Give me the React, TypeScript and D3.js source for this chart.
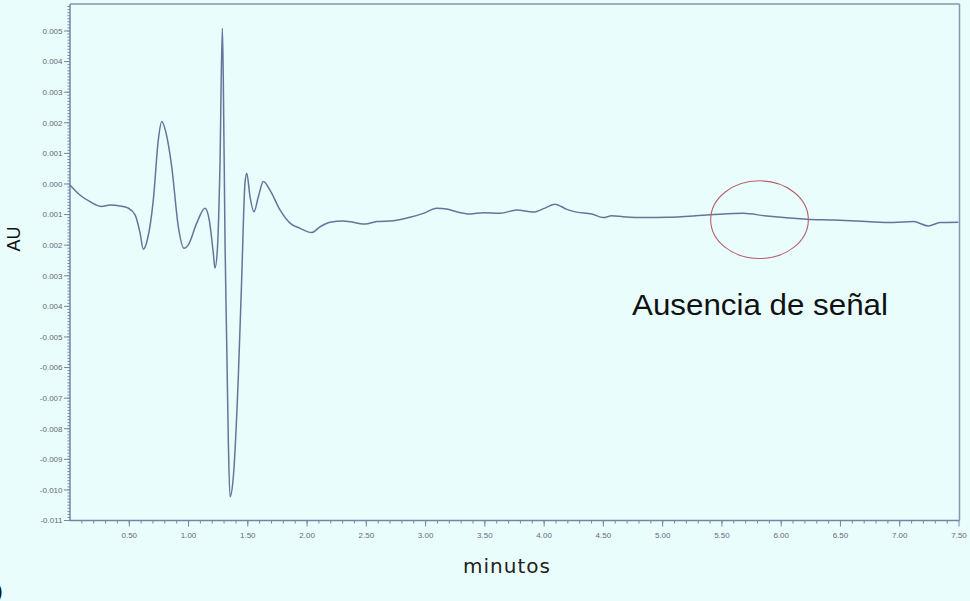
import React from "react";
import * as d3 from "d3";

// Chromatogram trace: retention time (min) and absorbance (AU)
const times = [
  0, 0.084, 0.169, 0.267, 0.337, 0.422, 0.492, 0.549, 0.591, 0.618, 0.652, 0.703,
  0.745, 0.774, 0.81, 0.858, 0.914, 0.962, 0.998, 1.069, 1.139, 1.175, 1.209, 1.223,
  1.243, 1.265, 1.285, 1.293, 1.308, 1.322, 1.336, 1.35, 1.378, 1.42, 1.449, 1.476,
  1.491, 1.519, 1.552, 1.589, 1.631, 1.687, 1.772, 1.856, 1.94, 2.039, 2.109, 2.194,
  2.306, 2.489, 2.588, 2.728, 2.868, 2.981, 3.094, 3.178, 3.263, 3.375, 3.487, 3.628,
  3.769, 3.909, 4.007, 4.092, 4.191, 4.275, 4.401, 4.499, 4.57, 4.668, 4.866, 5.034,
  5.4, 5.68, 5.878, 6.215, 6.44, 6.721, 6.946, 7.115, 7.241, 7.34, 7.494,
];

const absorbance = [
  -0.00003, -0.00036, -0.00058, -0.00074, -0.00069, -0.00072, -0.00079, -0.00101,
  -0.0016, -0.00213, -0.00183, -0.00052, 0.00144, 0.00204, 0.00167, 0.00057,
  -0.0014, -0.0021, -0.00199, -0.00128, -0.00079, -0.00118, -0.00226, -0.00275,
  -0.00216, 0.00057, 0.00509, 0.00351, -0.00193, -0.0052, -0.00846, -0.01023,
  -0.00957, -0.0063, -0.00303, 0.00002, 0.00035, -0.00042, -0.00091, -0.00042,
  0.00008, -0.0002, -0.00085, -0.00128, -0.00145, -0.00159, -0.0014, -0.00125,
  -0.00121, -0.00131, -0.00123, -0.0012, -0.00109, -0.00096, -0.00079, -0.00082,
  -0.00091, -0.00098, -0.00094, -0.00096, -0.00085, -0.00092, -0.00079, -0.00066,
  -0.00083, -0.00092, -0.00098, -0.0011, -0.00104, -0.00107, -0.0011, -0.00109,
  -0.00101, -0.00096, -0.00105, -0.00115, -0.00118, -0.00123, -0.00126, -0.00123,
  -0.00137, -0.00126, -0.00125,
];

const yTickValues = [
  0.005, 0.004, 0.003, 0.002, 0.001, 0, -0.001, -0.002, -0.003, -0.004, -0.005,
  -0.006, -0.007, -0.008, -0.009, -0.01, -0.011,
];
const yTickLabels = [
  "0.005", "0.004", "0.003", "0.002", "0.001", "0.000", "0.001", "0.002", "0.003",
  "0.004", "-0.005", "-0.006", "-0.007", "-0.008", "-0.009", "-0.010", "-0.011",
];

const xTickValues = [0.5, 1, 1.5, 2, 2.5, 3, 3.5, 4, 4.5, 5, 5.5, 6, 6.5, 7, 7.5];
const xTickLabels = [
  "0.50", "1.00", "1.50", "2.00", "2.50", "3.00", "3.50", "4.00", "4.50", "5.00",
  "5.50", "6.00", "6.50", "7.00", "7.50",
];

// Highlighted region (center time, center absorbance, half-width in min, half-height in AU)
const noSignalRegion = [5.817, -0.001167, 0.412, 0.00127];
const noSignalLabel = "Ausencia de señal";

const W = 970;
const H = 601;
const BG = "#EAFDFD";
const AXIS = "#7884A4";
const TRACE = "#66749A";
const TICK_TEXT = "#646A7A";

export default function App() {
  const x = d3.scaleLinear().domain([0, 7.5]).range([70, 959]);
  const y = d3.scaleLinear().domain([-0.011, 0.005]).range([520.5, 31]);
  const yTop = 4;

  const data = times.map((t, i) => [t, absorbance[i]] as [number, number]);
  const line = d3
    .line<[number, number]>()
    .x((d) => x(d[0]))
    .y((d) => y(d[1]))
    .curve(d3.curveMonotoneX);

  const yMinor = d3.range(0, 171).map((i) => -0.011 + i * 0.0001).filter((v) => y(v) > yTop + 1);
  const xMinor = d3.range(1, 75).map((i) => i * 0.1);

  const [cx, cy, rx, ry] = noSignalRegion;
  const ex = x(cx);
  const ey = y(cy);
  const erx = x(cx + rx) - x(cx);
  const ery = y(cy - ry) - y(cy);

  return (
    <svg
      width={W}
      height={H}
      style={{ position: "absolute", left: 0, top: 0, background: BG }}
      fontFamily="'Liberation Sans', Arial, sans-serif"
    >
      <rect x={0} y={0} width={W} height={H} fill={BG} />

      {/* frame */}
      <line x1={70} y1={yTop} x2={959.5} y2={yTop} stroke="#8894B2" strokeWidth={1.5} />
      <line x1={959.5} y1={yTop} x2={959.5} y2={y(-0.011)} stroke="#8894B2" strokeWidth={1.5} />

      {/* y axis */}
      <line x1={70} y1={yTop} x2={70} y2={y(-0.011)} stroke={AXIS} strokeWidth={1.5} />
      {yMinor.map((v, i) => (
        <line key={"ym" + i} x1={67.5} x2={70} y1={y(v)} y2={y(v)} stroke={AXIS} strokeWidth={1} />
      ))}
      {yTickValues.map((v, i) => (
        <g key={"yt" + i}>
          <line x1={64} x2={70} y1={y(v)} y2={y(v)} stroke={AXIS} strokeWidth={1} />
          <text x={62.5} y={y(v) + 2.8} textAnchor="end" fontSize={8} fill={TICK_TEXT}>
            {yTickLabels[i]}
          </text>
        </g>
      ))}

      {/* x axis */}
      <line x1={70} y1={y(-0.011)} x2={959.5} y2={y(-0.011)} stroke={AXIS} strokeWidth={1.5} />
      {xMinor.map((v, i) => (
        <line key={"xm" + i} x1={x(v)} x2={x(v)} y1={y(-0.011)} y2={y(-0.011) + 3} stroke={AXIS} strokeWidth={1} />
      ))}
      {xTickValues.map((v, i) => (
        <g key={"xt" + i}>
          <line x1={x(v)} x2={x(v)} y1={y(-0.011)} y2={y(-0.011) + 6} stroke={AXIS} strokeWidth={1} />
          <text x={x(v)} y={538} textAnchor="middle" fontSize={8} fill={TICK_TEXT}>
            {xTickLabels[i]}
          </text>
        </g>
      ))}

      {/* trace */}
      <path d={line(data) ?? ""} fill="none" stroke={TRACE} strokeWidth={1.5} strokeLinejoin="round" />

      {/* annotation */}
      <ellipse cx={ex} cy={ey} rx={erx} ry={ery} fill="none" stroke="#B5606A" strokeWidth={1.1} />
      <text x={632} y={315} fontSize={30} fill="#111" textLength={256} lengthAdjust="spacingAndGlyphs">
        {noSignalLabel}
      </text>

      {/* axis titles */}
      <text transform="translate(20,239) rotate(-90)" textAnchor="middle" fontSize={18} fill="#111">
        AU
      </text>
      <text
        x={463}
        y={573}
        fontSize={20}
        fill="#222"
        fontFamily="'DejaVu Sans', Verdana, sans-serif"
        textLength={87}
        lengthAdjust="spacing"
      >
        minutos
      </text>
      <text x={-4} y={598} fontSize={20} fill="#111">
        )
      </text>
    </svg>
  );
}
